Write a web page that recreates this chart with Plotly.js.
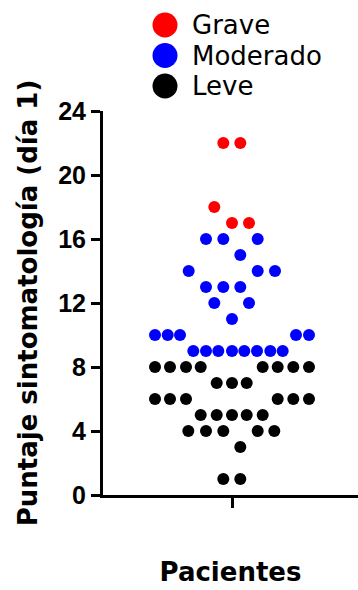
<!DOCTYPE html>
<html><head><meta charset="utf-8">
<script src="https://cdn.plot.ly/plotly-3.0.1.min.js"></script>
<style>html,body{margin:0;padding:0;background:#fff}#chart{width:358px;height:590px}</style>
</head><body><div id="chart"></div>
<script>
// ---- data ----
const groups = ["Grave", "Moderado", "Leve"];
const groupColors = ["#ff0000", "#0000ff", "#000000"];
const graveScore = [22, 22, 18, 17, 17];
const graveOffset = [-8.7, 8.3, -17.7, 0, 17];
const moderadoScore = [16, 16, 16, 15, 14, 14, 14, 13, 13, 13, 12, 12, 11, 10, 10, 10, 10, 10, 9, 9, 9, 9, 9, 9, 9, 9];
const moderadoOffset = [-26, -8.7, 25.7, 8.3, -43.3, 25.7, 43, -26, -8.7, 8.3, -17.7, 17, 0, -77, -64.3, -52, 64, 77, -38.7, -26, -13.7, 0, 12.3, 25, 38.3, 50.7];
const leveScore = [8, 8, 8, 8, 8, 8, 8, 8, 7, 7, 7, 6, 6, 6, 6, 6, 6, 5, 5, 5, 5, 5, 4, 4, 4, 4, 4, 3, 1, 1];
const leveOffset = [-77, -62, -46, -31.3, 30.7, 45.7, 61.3, 77, -15.3, 0, 14.7, -77, -62, -46, 45.7, 61.3, 77, -31.3, -15.3, 0, 14.7, 30.7, -43.7, -26, -8.7, 25.7, 42.3, 8.3, -8.7, 8.3];
const yTicks = [0, 4, 8, 12, 16, 20, 24];
const xTitle = "Pacientes";
const yTitle = "Puntaje sintomatología (día 1)";

// ---- layout geometry ----
const W = 358, H = 590;
const M = {l: 103, r: 0, t: 0, b: 95};
const plotH = H - M.t - M.b;
const centerPx = 232;              // swarm centre
const yAxisTopPx = 111;            // pixel of y = 24
const xr = [M.l - centerPx, W - M.r - centerPx];
const font = "Arial, 'Liberation Sans', sans-serif";
const titleFont = "'DejaVu Sans', Verdana, sans-serif";

// legend geometry (pixel based)
const legTopDom = 0.8;
const legRowPx = [25, 55.5, 86];
const legPxPerUnit = 30.5;
const legDomTopPx = M.t, legDomBotPx = M.t + plotH * (1 - legTopDom);
const legRange = [(legDomBotPx - legRowPx[0]) / legPxPerUnit, (legDomTopPx - legRowPx[0]) / legPxPerUnit];
const legMarkerX = 165 - centerPx, legTextX = 191 - centerPx;

const scores = [graveScore, moderadoScore, leveScore];
const offsets = [graveOffset, moderadoOffset, leveOffset];
const traces = groups.map((g, i) => ({
  type: "scatter", mode: "markers", name: g,
  x: offsets[i], y: scores[i],
  marker: {size: 12, color: groupColors[i], line: {width: 0}},
  showlegend: false, hoverinfo: "skip", cliponaxis: false
}));
traces.push({
  type: "scatter", mode: "markers", xaxis: "x2", yaxis: "y2",
  x: groups.map(() => legMarkerX), y: groups.map((g, i) => i),
  marker: {size: 25, color: groupColors, line: {width: 0}},
  showlegend: false, hoverinfo: "skip", cliponaxis: false
});

const annotations = groups.map((g, i) => ({
  xref: "x2", yref: "y2", x: legTextX, y: i, text: g, showarrow: false,
  xanchor: "left", yanchor: "middle", borderpad: 0,
  font: {family: titleFont, size: 26, color: "#000"}
}));

const layout = {
  width: W, height: H, margin: M,
  paper_bgcolor: "#fff", plot_bgcolor: "#fff",
  font: {family: font, color: "#000"},
  showlegend: false,
  xaxis: {
    range: xr, showgrid: false, zeroline: false,
    showline: true, linewidth: 3, linecolor: "#000",
    ticks: "outside", tickvals: [0], ticklen: 10, tickwidth: 3, tickcolor: "#000",
    showticklabels: false, fixedrange: true,
    title: {text: xTitle, font: {family: titleFont, size: 26, weight: "bold", color: "#000"}, standoff: 56}
  },
  yaxis: {
    domain: [0, (H - M.b - yAxisTopPx) / plotH],
    range: [0, 24], showgrid: false, zeroline: false,
    showline: true, linewidth: 3, linecolor: "#000",
    ticks: "outside", tickvals: yTicks, ticktext: yTicks.map(String), ticklen: 9, tickwidth: 3, tickcolor: "#000",
    tickfont: {family: font, size: 25, weight: "bold", color: "#000"},
    fixedrange: true,
    title: {text: yTitle, font: {family: titleFont, size: 26, weight: "bold", color: "#000"}, standoff: 14}
  },
  xaxis2: {overlaying: "x", anchor: "y2", range: xr, visible: false, fixedrange: true},
  yaxis2: {domain: [legTopDom, 1], anchor: "x2", range: legRange, visible: false, fixedrange: true},
  annotations: annotations
};

Plotly.newPlot("chart", traces, layout, {staticPlot: true, displayModeBar: false});
</script>
</body></html>
